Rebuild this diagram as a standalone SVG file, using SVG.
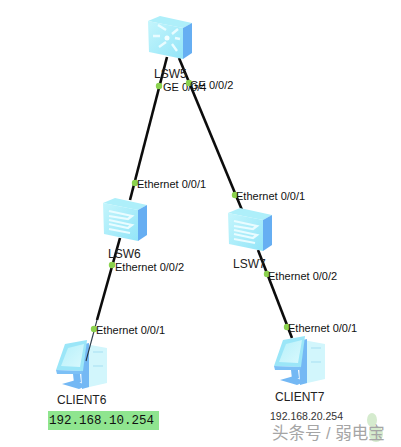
<svg xmlns="http://www.w3.org/2000/svg" width="401" height="447" viewBox="0 0 401 447">
<style>
text{font-family:"Liberation Sans",Arial,sans-serif;font-size:11px;fill:#111}
.name{font-size:12px;fill:#222}
.link{stroke:#0c0c0c;stroke-width:2.6;fill:none;stroke-linecap:butt}
.dot{fill:#8ad24e}
.ip{font-family:"Liberation Mono","Courier New",monospace;font-size:12.5px}
</style>
<defs>
<linearGradient id="face" x1="0" y1="0" x2="1" y2="1"><stop offset="0" stop-color="#c4f5fc"/><stop offset="1" stop-color="#93e5f8"/></linearGradient>
<linearGradient id="screen" x1="0" y1="0" x2="1" y2="1"><stop offset="0" stop-color="#b6f0fa"/><stop offset="1" stop-color="#d9f9fd"/></linearGradient>
<g id="body">
<polygon points="0,5 12,0 44,7 35,12" fill="#aeeffa"/>
<polygon points="0,5 35,12 35,43 1,36" fill="url(#face)"/>
<polygon points="35,12 44,7 44,37 35,43" fill="#66aef2"/>
</g>
<g id="sw">
<use href="#body"/>
<g fill="none" stroke="#e9fcff" stroke-width="2.2">
<path d="M6,13 L29,18 L25,21 L6,18"/>
<path d="M6,22 L29,27 L25,30 L6,26"/>
<path d="M6,31 L27,35"/>
</g>
</g>
<g id="pc">
<polygon points="29,4 51,8 51,43 29,48" fill="#d2f6fc"/>
<polygon points="24,5 33,3 33,47 26,49" fill="#74b8f4"/>
<polygon points="9,4 31,0 27,31 0,30" fill="#9be6f8"/>
<polygon points="12,8 28,4 24,27 5,26" fill="url(#screen)"/>
<polygon points="0,30 27,31 26,34 1,34" fill="#7cc0f6"/>
<polygon points="17,34 24,34 25,42 18,43" fill="#74b8f4"/>
<polygon points="6,44 20,40 30,46 23,49" fill="#74b8f4"/>
<path d="M37,12H47M37,26H47" stroke="#a6dff2" stroke-width="1" fill="none"/>
</g>
</defs>
<rect width="401" height="447" fill="#fff"/>
<g id="connectors">
<path class="link" d="M167,57 L130,200"/>
<path class="link" d="M179,58 L242,210"/>
<path class="link" d="M120,238 L97,320"/>
<path class="link" d="M258,250 L292,338"/>
</g>
<g id="LSW5"><use href="#body" x="148" y="16"/>
<g stroke="#e9fcff" stroke-width="2.4" fill="none"><path d="M166,30 L158,25 M172,34 L178,29 M166,42 L159,47 M172,44 L177,51 M160,36 L153,36 M175,38 L180,39"/></g>
<circle cx="167" cy="38" r="2.5" fill="#f2feff"/>
<text class="name" x="154" y="78">LSW5</text></g>
<g id="LSW6"><use href="#sw" x="103" y="198"/><text class="name" x="108" y="258">LSW6</text></g>
<g id="LSW7"><use href="#sw" x="228" y="208"/><text class="name" x="233" y="268">LSW7</text></g>
<g id="CLIENT6"><use href="#pc" x="56" y="340"/><text class="name" x="57" y="404">CLIENT6</text>
<rect x="48" y="411" width="111" height="19" fill="#8fe58f"/><text class="ip" x="49" y="424">192.168.10.254</text></g>
<g id="CLIENT7"><use href="#pc" x="274" y="336"/><text class="name" x="275" y="401">CLIENT7</text>
<text x="270" y="420" style="font-size:10.5px;fill:#333">192.168.20.254</text></g>
<path d="M97,320 L86,361" stroke="#2a3a48" stroke-width="1.1" fill="none"/>
<g id="ports">
<circle class="dot" cx="159" cy="86" r="3.2"/><text x="163" y="91">GE 0/0/4</text>
<circle class="dot" cx="189" cy="83" r="3.2"/><text x="190" y="89">GE 0/0/2</text>
<circle class="dot" cx="135" cy="183" r="3.2"/><text x="137" y="188">Ethernet 0/0/1</text>
<circle class="dot" cx="235" cy="195" r="3.2"/><text x="236" y="200">Ethernet 0/0/1</text>
<circle class="dot" cx="112" cy="265" r="3.2"/><text x="115" y="271">Ethernet 0/0/2</text>
<circle class="dot" cx="267" cy="274" r="3.2"/><text x="268" y="280">Ethernet 0/0/2</text>
<circle class="dot" cx="94" cy="329" r="3.2"/><text x="96" y="334">Ethernet 0/0/1</text>
<circle class="dot" cx="287" cy="327" r="3.2"/><text x="288" y="332">Ethernet 0/0/1</text>
</g>
<g id="watermark">
<g fill="#d5ebce"><ellipse cx="372" cy="420" rx="5" ry="7"/><ellipse cx="376" cy="434" rx="7" ry="8"/></g>
<text x="272" y="439" style="font-family:'Liberation Sans','Noto Sans CJK SC',sans-serif;font-size:16.5px;fill:#a5a5a5">头条号 / 弱电宝</text>
</g>
</svg>
